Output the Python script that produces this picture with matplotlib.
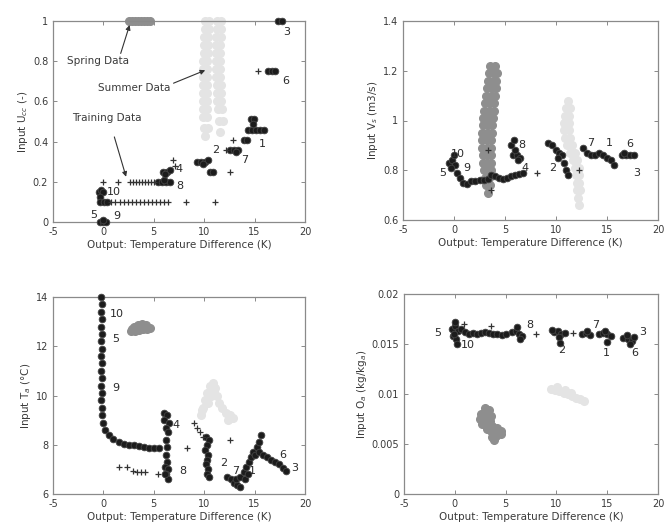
import matplotlib
matplotlib.use("Agg")
import matplotlib.pyplot as plt
from matplotlib.ticker import FuncFormatter

plt.rcParams['font.family'] = ['DejaVu Sans']

XLABEL = "Output: Temperature Difference (K)"
TRAIN_C = "#1c1c1c"
SPRING_C = "#8e8e8e"
SUMMER_C = "#e4e4e4"
TEXT_C = "#3a3a3a"

# ---------------- Panel 1: U_cc ----------------
u_dot_x = [-0.3, 0.0, 0.3, 0.0, -0.4, -0.2, 0.0, -0.3, -0.3, 0.1, 0.4,
           5.4, 5.8, 6.2, 6.6, 6.0, 5.9, 6.3, 6.6, 6.1,
           9.3, 9.7, 10.1, 10.4, 9.9, 10.6, 10.9,
           12.6, 13.0, 13.4, 13.2, 13.9, 14.2,
           14.3, 14.7, 15.1, 15.5, 15.9, 14.6, 14.9, 14.8,
           16.3, 16.7, 17.0, 17.3, 17.7]
u_dot_y = [0.0, 0.0, 0.0, 0.012, 0.15, 0.16, 0.15, 0.125, 0.1, 0.1, 0.1,
           0.2, 0.2, 0.2, 0.2, 0.21, 0.25, 0.25, 0.26, 0.24,
           0.3, 0.3, 0.3, 0.31, 0.29, 0.25, 0.25,
           0.36, 0.36, 0.36, 0.35, 0.41, 0.41,
           0.46, 0.46, 0.46, 0.46, 0.46, 0.51, 0.51, 0.49,
           0.75, 0.75, 0.75, 1.0, 1.0]
u_plus_x = [0.8, 1.2, 1.6, 2.0, 2.4, 2.8, 3.2, 3.6, 4.0, 4.4, 4.8, 5.2, 5.6, 6.0, 6.4, 8.2, 11.1,
            0.0, 1.45, 2.6, 2.9, 3.2, 3.5, 3.8, 4.1, 4.4, 4.7, 5.0,
            6.9, 7.1, 12.6, 12.2, 12.9, 15.3]
u_plus_y = [0.1, 0.1, 0.1, 0.1, 0.1, 0.1, 0.1, 0.1, 0.1, 0.1, 0.1, 0.1, 0.1, 0.1, 0.1, 0.1, 0.1,
            0.2, 0.2, 0.2, 0.2, 0.2, 0.2, 0.2, 0.2, 0.2, 0.2, 0.2,
            0.31, 0.28, 0.25, 0.36, 0.41, 0.75]
u_spring_x = [2.5, 2.8, 3.1, 3.4, 3.7, 4.0, 4.3, 4.6]
u_spring_y = [1.0, 1.0, 1.0, 1.0, 1.0, 1.0, 1.0, 1.0]
u_summer_x = [10.1, 10.5, 11.3, 11.7, 10.1, 10.5, 11.3, 11.7, 10.0, 10.4, 11.2, 11.7,
              10.0, 10.4, 11.2, 11.6, 10.0, 10.4, 11.2, 11.6, 9.9, 10.3, 11.2, 11.6,
              9.9, 10.3, 11.2, 11.6, 9.9, 10.3, 11.2, 11.6, 9.9, 10.3, 11.3, 11.7,
              9.9, 10.3, 11.3, 11.7, 9.9, 10.3, 11.3, 11.7, 9.9, 10.3, 11.4, 11.8,
              9.9, 10.3, 11.5, 11.9, 10.0, 10.4, 11.6, 10.1]
u_summer_y = [1.0, 1.0, 1.0, 1.0, 0.96, 0.96, 0.96, 0.96, 0.92, 0.92, 0.92, 0.92,
              0.88, 0.88, 0.88, 0.88, 0.84, 0.84, 0.84, 0.84, 0.80, 0.80, 0.80, 0.80,
              0.76, 0.76, 0.76, 0.76, 0.72, 0.72, 0.72, 0.72, 0.68, 0.68, 0.68, 0.68,
              0.64, 0.64, 0.64, 0.64, 0.60, 0.60, 0.60, 0.60, 0.56, 0.56, 0.56, 0.56,
              0.52, 0.52, 0.50, 0.50, 0.47, 0.47, 0.45, 0.43]
u_lab_txt = ["3", "6", "1", "7", "2", "4", "8", "10", "5", "9"]
u_lab_x = [18.2, 18.1, 15.8, 14.0, 11.1, 7.5, 7.6, 1.0, -1.0, 1.3]
u_lab_y = [0.945, 0.70, 0.39, 0.31, 0.36, 0.265, 0.18, 0.15, 0.035, 0.03]

# ---------------- Panel 2: V_s ----------------
v_dot_x = [-0.5, -0.2, 0.1, -0.3, 0.0, 0.3, 0.6, 0.9, 1.3, 1.7, 2.1, 2.5, 2.9, 3.3, 3.6,
           4.0, 4.4, 4.8, 5.2, 5.6, 6.0, 6.4, 6.8,
           5.8, 6.2, 6.5, 6.0, 5.6, 5.9, 6.3,
           9.2, 9.6, 10.0, 10.3, 10.6, 10.8, 11.0, 11.2, 10.2,
           12.6, 13.0, 13.4, 13.8, 14.2, 14.6, 15.0, 15.4, 15.7,
           16.5, 16.9, 17.3, 17.6, 16.7]
v_dot_y = [0.83, 0.84, 0.82, 0.81, 0.86, 0.79, 0.77, 0.75, 0.745, 0.755, 0.755, 0.76, 0.76, 0.765, 0.78,
           0.775, 0.77, 0.765, 0.77, 0.775, 0.78, 0.785, 0.79,
           0.86, 0.86, 0.85, 0.88, 0.90, 0.92, 0.84,
           0.91, 0.90, 0.88, 0.87, 0.86, 0.83, 0.80, 0.78, 0.85,
           0.89, 0.87, 0.86, 0.86, 0.87, 0.86, 0.85, 0.84, 0.82,
           0.86, 0.86, 0.86, 0.86, 0.87]
v_plus_x = [8.1, 12.3, 3.3, 3.6]
v_plus_y = [0.79, 0.80, 0.88, 0.72]
v_spring_x = [3.5, 4.0, 3.4, 3.9, 4.2, 3.3, 3.8, 4.1, 3.2, 3.7, 4.1, 3.1, 3.6, 4.0,
              3.0, 3.5, 3.9, 2.9, 3.4, 3.9, 2.8, 3.3, 3.8, 2.8, 3.3, 3.7, 2.7, 3.2, 3.7,
              2.7, 3.2, 3.6, 2.7, 3.2, 3.6, 2.8, 3.2, 3.6, 2.8, 3.2, 3.6, 2.9, 3.3, 3.6,
              3.0, 3.4, 3.1, 3.5, 3.3]
v_spring_y = [1.22, 1.22, 1.19, 1.19, 1.19, 1.16, 1.16, 1.16, 1.13, 1.13, 1.13, 1.10, 1.10, 1.10,
              1.07, 1.07, 1.07, 1.04, 1.04, 1.04, 1.01, 1.01, 1.01, 0.98, 0.98, 0.98, 0.95, 0.95, 0.95,
              0.92, 0.92, 0.92, 0.89, 0.89, 0.89, 0.86, 0.86, 0.86, 0.83, 0.83, 0.83, 0.80, 0.80, 0.80,
              0.77, 0.77, 0.74, 0.74, 0.71]
v_summer_x = [11.2, 11.0, 11.4, 10.9, 11.3, 10.8, 11.3, 10.8, 11.3, 10.9, 11.4, 11.1, 11.6,
              11.4, 11.9, 11.7, 12.1, 11.9, 12.3, 12.0, 12.3, 12.1, 12.3, 12.1, 12.4, 12.2, 12.3]
v_summer_y = [1.08, 1.05, 1.05, 1.02, 1.02, 0.99, 0.99, 0.96, 0.96, 0.93, 0.93, 0.90, 0.90,
              0.87, 0.87, 0.84, 0.84, 0.81, 0.81, 0.78, 0.78, 0.75, 0.75, 0.72, 0.72, 0.69, 0.66]
v_lab_txt = ["10", "5", "9", "8", "4", "2", "7", "1", "6", "3"]
v_lab_x = [0.4, -1.1, 1.3, 6.6, 7.0, 9.7, 13.4, 15.2, 17.2, 17.9]
v_lab_y = [0.865, 0.79, 0.81, 0.90, 0.81, 0.81, 0.91, 0.91, 0.905, 0.79]

# ---------------- Panel 3: T_a ----------------
t_dot_x = [-0.2, -0.1, -0.2, -0.1, -0.2, -0.1, -0.2, -0.1, -0.2, -0.1, -0.2, -0.1, -0.2, -0.1, -0.2, -0.1, -0.1, 0.0,
           0.2, 0.6, 1.0, 1.5, 2.0, 2.5, 3.0, 3.5, 4.0, 4.5, 5.0, 5.5,
           6.0, 6.3, 6.0, 6.5, 6.2, 6.4, 6.2, 6.3, 6.2, 6.3, 6.1, 6.4, 6.2, 6.4, 6.1,
           10.2, 10.5, 10.3, 10.1, 10.4, 10.3, 10.2, 10.4, 10.3, 10.5,
           12.3, 12.7, 13.0, 13.3, 13.6, 13.2, 13.6, 13.9, 14.1, 14.4, 14.6, 14.8, 15.0, 15.2,
           15.4, 15.6, 15.4, 15.8, 16.2, 16.6, 17.0, 17.4, 17.8, 18.1, 14.0, 14.3]
t_dot_y = [14.0, 13.7, 13.4, 13.1, 12.8, 12.5, 12.2, 11.9, 11.6, 11.3, 11.0, 10.7, 10.4, 10.1, 9.8, 9.5, 9.2, 8.9,
           8.6, 8.4, 8.25, 8.1, 8.05, 8.0, 7.98, 7.95, 7.9, 7.85, 7.85, 7.85,
           9.3, 9.2, 9.0, 8.9, 8.7, 8.5, 8.2, 7.9, 7.6, 7.3, 7.1, 7.0, 6.8, 6.6, 6.8,
           8.3, 8.2, 8.0, 7.8, 7.6, 7.4, 7.2, 7.0, 6.8, 6.7,
           6.7, 6.6, 6.45, 6.35, 6.3, 6.6, 6.7, 6.9, 7.1, 7.3, 7.5, 7.7, 7.6, 7.9,
           8.1, 8.4, 7.7, 7.6, 7.5, 7.4, 7.3, 7.2, 7.05, 6.95, 6.6, 6.8]
t_plus_x = [1.5, 2.3, 2.9, 3.3, 3.7, 4.1, 5.4, 8.3, 9.0, 9.3, 9.6, 9.9, 12.6]
t_plus_y = [7.1, 7.1, 6.95, 6.9, 6.9, 6.9, 6.8, 7.85, 8.9, 8.7, 8.5, 8.3, 8.2]
t_spring_x = [2.7, 3.1, 3.5, 3.9, 4.3, 4.6, 3.0, 3.4, 3.8, 4.2, 2.8]
t_spring_y = [12.6, 12.6, 12.65, 12.7, 12.7, 12.75, 12.8, 12.85, 12.9, 12.85, 12.7]
t_summer_x = [9.7, 9.9, 10.1, 10.3, 10.6, 10.9, 11.1, 11.3, 11.5, 11.8, 12.2, 12.6, 12.9,
              10.7, 11.0, 10.4, 9.8, 12.4]
t_summer_y = [9.2, 9.5, 9.8, 10.1, 10.4, 10.5, 10.3, 10.0, 9.7, 9.5, 9.3, 9.2, 9.1,
              10.0, 10.2, 9.7, 9.4, 9.0]
t_lab_txt = ["10", "5", "9", "4", "8", "2", "7", "1", "6", "3"]
t_lab_x = [1.3, 1.2, 1.2, 7.2, 7.9, 11.9, 13.1, 14.8, 17.8, 19.0]
t_lab_y = [13.3, 12.3, 10.3, 8.8, 6.95, 7.25, 6.95, 6.95, 7.6, 7.05]

# ---------------- Panel 4: O_a ----------------
o_dot_x = [-0.3, 0.0, 0.3, -0.2, 0.1, 0.0, -0.1, 0.2,
           0.6, 1.0, 1.4, 1.8, 2.2, 2.6, 3.0, 3.4, 3.8, 4.2, 4.6, 5.0,
           5.6, 6.0, 6.3, 6.6, 6.1, 6.4,
           9.8, 10.2, 10.5, 10.8, 10.3, 10.4, 9.6,
           12.5, 12.9, 13.3, 13.0,
           14.2, 14.6, 15.0, 15.4, 15.0, 14.8,
           16.6, 17.0, 17.4, 17.6, 17.2, 16.9]
o_dot_y = [0.0165, 0.0168, 0.0163, 0.0158, 0.0155, 0.0172, 0.0160, 0.0150,
           0.0165, 0.0162, 0.0160, 0.0161, 0.0160, 0.0161, 0.0162, 0.0161, 0.0160, 0.0160, 0.0159, 0.0160,
           0.0162, 0.0163, 0.0160, 0.0158, 0.0167, 0.0155,
           0.0162, 0.0163, 0.0160, 0.0161, 0.0157, 0.0151, 0.0164,
           0.0160, 0.0161, 0.0159, 0.0163,
           0.0160, 0.0161, 0.0160, 0.0158, 0.0152, 0.0163,
           0.0156, 0.0155, 0.0153, 0.0157, 0.0150, 0.0159]
o_plus_x = [8.0, 11.6, 3.6, 0.9]
o_plus_y = [0.0160, 0.0161, 0.0168, 0.0170]
o_spring_x = [3.0, 3.4, 2.6, 3.2, 3.6, 2.5, 3.1, 3.5, 2.7, 3.3, 3.7, 4.2, 3.2, 3.6, 4.0, 4.5, 3.7, 4.1, 3.9, 4.5]
o_spring_y = [0.0086, 0.0084, 0.0080, 0.0079, 0.0078, 0.0075, 0.0074, 0.0073, 0.0070, 0.0069, 0.0068, 0.0066,
              0.0065, 0.0063, 0.0062, 0.0063, 0.0057, 0.0058, 0.0054, 0.0060]
o_summer_x = [9.5, 9.9, 10.3, 10.7, 11.1, 11.5, 11.9, 12.3, 12.7, 10.1, 10.8, 11.4]
o_summer_y = [0.0105, 0.0104, 0.0103, 0.0101, 0.0100, 0.0098, 0.0096, 0.0095, 0.0093, 0.0107, 0.0104, 0.0101]
o_lab_txt = ["5", "10", "8", "2", "7", "1", "6", "3"]
o_lab_x = [-1.65, 1.3, 7.4, 10.5, 13.9, 14.9, 17.7, 18.5]
o_lab_y = [0.0161, 0.0149, 0.0169, 0.0144, 0.0169, 0.0141, 0.0141, 0.0162]

x_ticks = [-5, 0, 5, 10, 15, 20]
u_ticks = [0, 0.2, 0.4, 0.6, 0.8, 1]
v_ticks = [0.6, 0.8, 1, 1.2, 1.4]
t_ticks = [6, 8, 10, 12, 14]
o_ticks = [0, 0.005, 0.01, 0.015, 0.02]

fig = plt.figure(figsize=(6.66, 5.29), dpi=100)
W, H = 666.0, 529.0


def make_ax(l, r, t, b):
    return fig.add_axes([l / W, 1 - b / H, (r - l) / W, (b - t) / H])


def style(ax, yt, ylabel):
    ax.set_xlim(-5, 20)
    ax.set_ylim(yt[0], yt[-1])
    ax.set_xticks(x_ticks)
    ax.set_yticks(yt)
    fmt = FuncFormatter(lambda v, p: "%g" % v)
    ax.xaxis.set_major_formatter(fmt)
    ax.yaxis.set_major_formatter(fmt)
    ax.tick_params(direction="in", top=True, right=True, length=3, width=0.6,
                   colors="#777777", labelcolor=TEXT_C, labelsize=7)
    for s in ax.spines.values():
        s.set_color("#8a8a8a")
        s.set_linewidth(0.9)
    ax.set_xlabel(XLABEL, fontsize=7.5, color=TEXT_C, labelpad=2)
    ax.set_ylabel(ylabel, fontsize=7.5, color=TEXT_C, labelpad=2)


def draw(ax, sx, sy, wx, wy, dx, dy, px, py, lt, lx, ly):
    ax.plot(wx, wy, "o", ms=5.5, color=SUMMER_C, mec=SUMMER_C, clip_on=False, zorder=2)
    ax.plot(sx, sy, "o", ms=5.5, color=SPRING_C, mec=SPRING_C, clip_on=False, zorder=2)
    ax.plot(dx, dy, "o", ms=4.8, color=TRAIN_C, mec="#444444", mew=0.6, clip_on=False, zorder=3)
    ax.plot(px, py, "+", ms=4, color="#333333", mew=0.9, clip_on=False, zorder=3)
    for t, x, y in zip(lt, lx, ly):
        ax.text(x, y, t, fontsize=8, color="#2a2a2a", ha="center", va="center", zorder=4)


ax1 = make_ax(53, 305, 21, 222)
draw(ax1, u_spring_x, u_spring_y, u_summer_x, u_summer_y, u_dot_x, u_dot_y,
     u_plus_x, u_plus_y, u_lab_txt, u_lab_x, u_lab_y)
style(ax1, u_ticks, "Input U$_{cc}$ (-)")
ax1.annotate("Spring Data", xy=(2.6, 0.98), xytext=(-3.6, 0.8), fontsize=7.5, color=TEXT_C,
             va="center", ha="left",
             arrowprops=dict(arrowstyle="-|>", color="#333333", lw=0.8, mutation_scale=7,
                             shrinkA=0, shrinkB=0, relpos=(0.85, 1.0)))
ax1.annotate("Summer Data", xy=(10.1, 0.755), xytext=(-0.5, 0.665), fontsize=7.5, color=TEXT_C,
             va="center", ha="left",
             arrowprops=dict(arrowstyle="-|>", color="#333333", lw=0.8, mutation_scale=7,
                             shrinkA=0, shrinkB=0, relpos=(1.0, 0.9)))
ax1.annotate("Training Data", xy=(2.25, 0.225), xytext=(-3.1, 0.515), fontsize=7.5, color=TEXT_C,
             va="center", ha="left",
             arrowprops=dict(arrowstyle="-|>", color="#333333", lw=0.8, mutation_scale=7,
                             shrinkA=8, shrinkB=0, relpos=(0.55, 0.0)))

ax2 = make_ax(403, 658, 21, 220)
draw(ax2, v_spring_x, v_spring_y, v_summer_x, v_summer_y, v_dot_x, v_dot_y,
     v_plus_x, v_plus_y, v_lab_txt, v_lab_x, v_lab_y)
style(ax2, v_ticks, "Input V$_s$ (m3/s)")

ax3 = make_ax(53, 305, 297, 494)
draw(ax3, t_spring_x, t_spring_y, t_summer_x, t_summer_y, t_dot_x, t_dot_y,
     t_plus_x, t_plus_y, t_lab_txt, t_lab_x, t_lab_y)
style(ax3, t_ticks, "Input T$_a$ (°C)")

ax4 = make_ax(404, 658, 294, 494)
draw(ax4, o_spring_x, o_spring_y, o_summer_x, o_summer_y, o_dot_x, o_dot_y,
     o_plus_x, o_plus_y, o_lab_txt, o_lab_x, o_lab_y)
style(ax4, o_ticks, "Input O$_a$ (kg/kg$_a$)")

fig.savefig("out.png", dpi=100)
